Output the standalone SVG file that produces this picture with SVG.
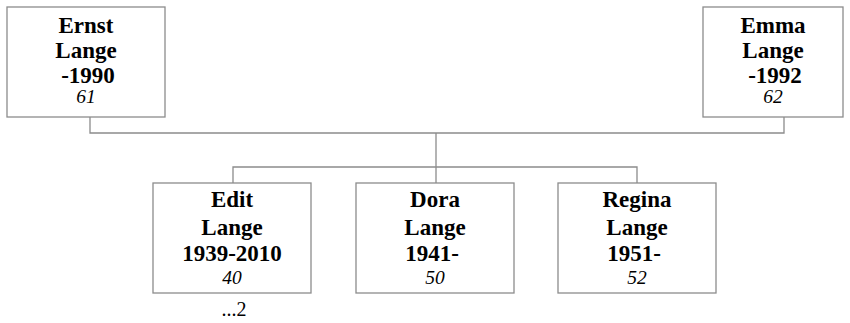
<svg xmlns="http://www.w3.org/2000/svg" width="850" height="323" viewBox="0 0 850 323">
<style>
.box{fill:#fff;stroke:#8c8c8c;stroke-width:1.3}
.ln{fill:none;stroke:#8c8c8c;stroke-width:1.3}
.n{font-family:"Liberation Serif","Times New Roman",serif;font-weight:bold;font-size:23px;text-anchor:middle;fill:#000}
.a{font-family:"Liberation Serif","Times New Roman",serif;font-style:italic;font-size:19.5px;text-anchor:middle;fill:#000}
.m{font-family:"Liberation Serif","Times New Roman",serif;font-size:20px;text-anchor:middle;fill:#000}
</style>
<rect width="850" height="323" fill="#fff"/>
<g id="connectors">
<path class="ln" d="M90,117V133H784V117"/>
<path class="ln" d="M436,133V167"/>
<path class="ln" d="M233,183V167H637V183"/>
<path class="ln" d="M436,167V183"/>
</g>
<g id="ernst">
<rect class="box" x="7" y="7" width="158" height="110"/>
<text class="n" x="86" y="33">Ernst</text>
<text class="n" x="86" y="58">Lange</text>
<text class="n" x="88" y="83">-1990</text>
<text class="a" x="86" y="103">61</text>
</g>
<g id="emma">
<rect class="box" x="703" y="7" width="140" height="110"/>
<text class="n" x="773" y="33">Emma</text>
<text class="n" x="773" y="58">Lange</text>
<text class="n" x="775" y="83">-1992</text>
<text class="a" x="773" y="103">62</text>
</g>
<g id="edit">
<rect class="box" x="153" y="183" width="158" height="110"/>
<text class="n" x="232" y="207">Edit</text>
<text class="n" x="232" y="235">Lange</text>
<text class="n" x="232" y="261">1939-2010</text>
<text class="a" x="232" y="284">40</text>
</g>
<g id="dora">
<rect class="box" x="356" y="183" width="158" height="110"/>
<text class="n" x="435" y="207">Dora</text>
<text class="n" x="435" y="235">Lange</text>
<text class="n" x="432" y="261">1941-</text>
<text class="a" x="435" y="284">50</text>
</g>
<g id="regina">
<rect class="box" x="558" y="183" width="158" height="110"/>
<text class="n" x="637" y="207">Regina</text>
<text class="n" x="637" y="235">Lange</text>
<text class="n" x="634" y="261">1951-</text>
<text class="a" x="637" y="284">52</text>
</g>
<text class="m" x="234" y="316">...2</text>
</svg>
